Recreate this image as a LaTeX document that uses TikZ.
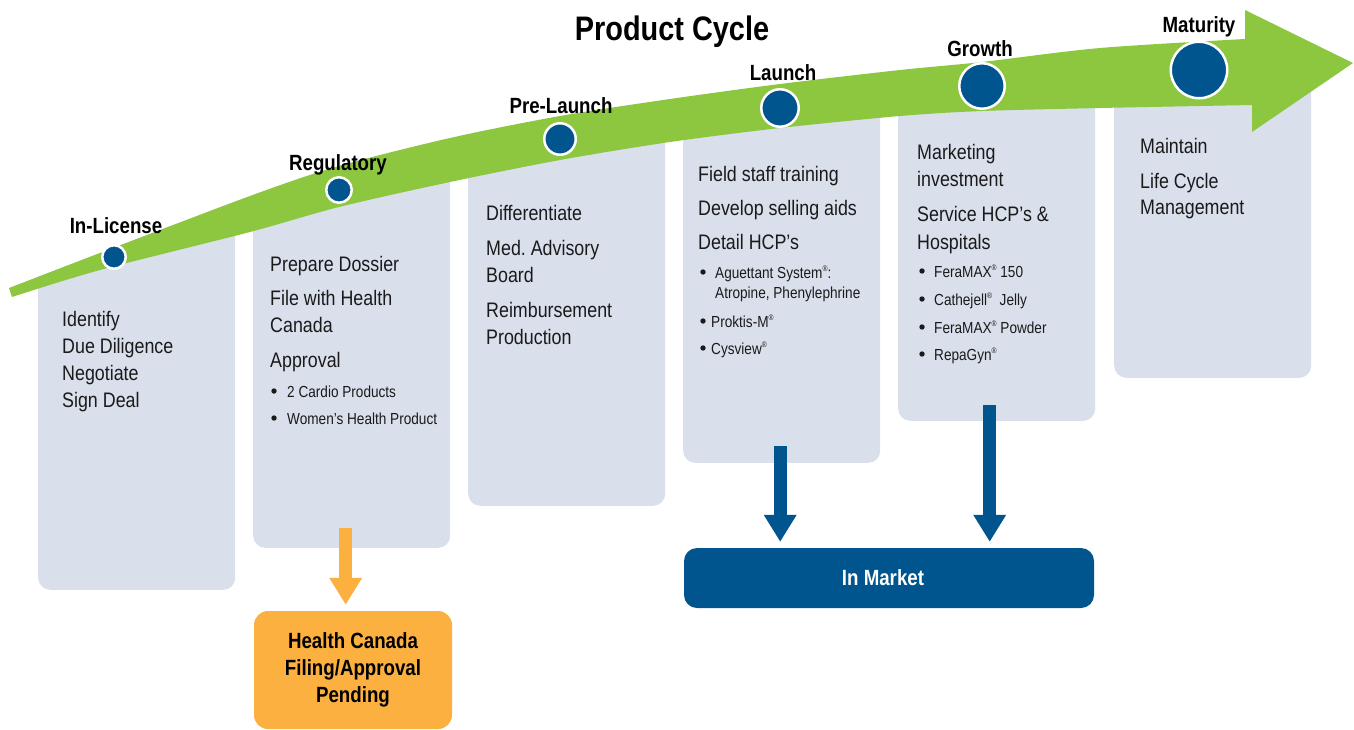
\documentclass[tikz,border=0pt]{standalone}
\usepackage{fontspec}
\setmainfont{Liberation Sans}[FakeStretch=0.85]
\usetikzlibrary{arrows.meta}

\definecolor{bandgreen}{HTML}{8DC63F}
\definecolor{panelgrey}{HTML}{D9E0EC}
\definecolor{dotblue}{HTML}{00558F}
\definecolor{pendorange}{HTML}{FBB040}
\definecolor{inktext}{HTML}{1A1A1A}

% small raised registered mark
\newcommand\regmark{\raisebox{0.42em}{\fontsize{8}{8}\selectfont ®}}

\tikzset{
  panel/.style={fill=panelgrey, rounded corners=12pt, inner sep=0pt, draw=none,
                minimum width=197pt, anchor=south west},
  stagedot/.style={circle, fill=dotblue, draw=white, line width=2.5pt, inner sep=0pt},
  stagelabel/.style={anchor=base, inner sep=0pt, font=\fontsize{22}{22}\selectfont\bfseries},
  itemtext/.style={anchor=base west, inner sep=0pt, text=inktext, font=\fontsize{21}{21}\selectfont},
  subtext/.style={anchor=base west, inner sep=0pt, text=inktext, font=\fontsize{16}{16}\selectfont},
  bulletdot/.style={fill=inktext},
  fatarrow/.style={line width=13pt, shorten >=6pt, -{Triangle[width=31pt,length=27pt]}},
}

\begin{document}
\begin{tikzpicture}[x=1pt,y=-1pt]
\useasboundingbox (0,0) rectangle (1354,729);

% stage panels, kept below the upper edge of the band
\begin{scope}
  \clip (0,296) -- plot[smooth] coordinates {(9,288) (100,253) (250,196) (339,166) (450,138) (560,116) (670,99) (780,84) (900,70) (982,62) (1100,48) (1245,39)}
        -- (1360,39) -- (1360,740) -- (0,740) -- cycle;
  \node[panel, minimum height=365pt] (p1) at (38,590) {};
  \node[panel, minimum height=378pt] (p2) at (253,548) {};
  \node[panel, minimum height=376pt] (p3) at (468,506) {};
  \node[panel, minimum height=358pt] (p4) at (683,463) {};
  \node[panel, minimum height=326pt] (p5) at (898,421) {};
  \node[panel, minimum height=308pt] (p6) at (1114,378) {};
\end{scope}

% the growth band with its arrow head
\fill[bandgreen] plot[smooth] coordinates {(9,288) (100,253) (250,196) (339,166) (450,138) (560,116) (670,99) (780,84) (900,70) (982,62) (1100,48) (1245,39)}
  -- (1245,10) -- (1353,63) -- (1252,132) -- (1252,105)
  -- plot[smooth] coordinates {(1252,105) (1100,108) (982,111) (900,116) (780,128) (670,142) (560,160) (450,182) (339,207) (250,232) (100,270) (12,297)}
  -- cycle;

% stage markers
\node[stagedot, minimum size=23.5pt] (c1) at (114,257) {};
\node[stagedot, minimum size=25.5pt] (c2) at (339,190) {};
\node[stagedot, minimum size=31.5pt] (c3) at (560,139) {};
\node[stagedot, minimum size=37.5pt] (c4) at (780,108) {};
\node[stagedot, minimum size=45.5pt] (c5) at (982,86) {};
\node[stagedot, minimum size=56.5pt] (c6) at (1199,70) {};

% stage names
\node[stagelabel] (s1) at (116,233) {In-License};
\node[stagelabel] (s2) at (338,170) {Regulatory};
\node[stagelabel] (s3) at (561,113) {Pre-Launch};
\node[stagelabel] (s4) at (783,80) {Launch};
\node[stagelabel] (s5) at (980,56) {Growth};
\node[stagelabel] (s6) at (1199,32) {Maturity};

% title
\node[anchor=base, inner sep=0pt, font=\fontsize{34}{34}\selectfont\bfseries] (title) at (672,40) {Product Cycle};

% In-License
\node[itemtext] (a1) at (62,326) {Identify};
\node[itemtext] (a2) at (62,353) {Due Diligence};
\node[itemtext] (a3) at (62,380) {Negotiate};
\node[itemtext] (a4) at (62,407) {Sign Deal};

% Regulatory
\node[itemtext] (b1) at (270,271) {Prepare Dossier};
\node[itemtext] (b2) at (270,305) {File with Health};
\node[itemtext] (b3) at (270,332) {Canada};
\node[itemtext] (b4) at (270,367) {Approval};
\fill[bulletdot] (274,391) circle (2.7);
\fill[bulletdot] (274,418) circle (2.7);
\node[subtext] (b5) at (287,397) {2 Cardio Products};
\node[subtext] (b6) at (287,424) {Women’s Health Product};

% Pre-Launch
\node[itemtext] (d1) at (486,220) {Differentiate};
\node[itemtext] (d2) at (486,255) {Med.\ Advisory};
\node[itemtext] (d3) at (486,282) {Board};
\node[itemtext] (d4) at (486,317) {Reimbursement};
\node[itemtext] (d5) at (486,344) {Production};

% Launch
\node[itemtext] (e1) at (698,181) {Field staff training};
\node[itemtext] (e2) at (698,215) {Develop selling aids};
\node[itemtext] (e3) at (698,249) {Detail HCP’s};
\fill[bulletdot] (703,272) circle (2.7);
\fill[bulletdot] (703,321) circle (2.7);
\fill[bulletdot] (703,348) circle (2.7);
\node[subtext] (e4) at (715,278) {Aguettant System\regmark:};
\node[subtext] (e5) at (715,298) {Atropine, Phenylephrine};
\node[subtext] (e6) at (711,327) {Proktis-M\regmark};
\node[subtext] (e7) at (711,354) {Cysview\regmark};

% Growth
\node[itemtext] (f1) at (917,159) {Marketing};
\node[itemtext] (f2) at (917,186) {investment};
\node[itemtext] (f3) at (917,221) {Service HCP’s \&};
\node[itemtext] (f4) at (917,249) {Hospitals};
\fill[bulletdot] (922,271) circle (2.7);
\fill[bulletdot] (922,299) circle (2.7);
\fill[bulletdot] (922,327) circle (2.7);
\fill[bulletdot] (922,354) circle (2.7);
\node[subtext] (f5) at (934,277) {FeraMAX\regmark{} 150};
\node[subtext] (f6) at (934,305) {Cathejell\regmark\ \ Jelly};
\node[subtext] (f7) at (934,333) {FeraMAX\regmark{} Powder};
\node[subtext] (f8) at (934,360) {RepaGyn\regmark};

% Maturity
\node[itemtext] (g1) at (1140,153) {Maintain};
\node[itemtext] (g2) at (1140,188) {Life Cycle};
\node[itemtext] (g3) at (1140,214) {Management};

% outcome boxes
\node[fill=pendorange, rounded corners=14pt, minimum width=198pt, minimum height=118pt,
      inner sep=0pt, align=center, font=\fontsize{22}{27}\selectfont\bfseries] (hc) at (353,670)
      {Health Canada\\Filing/Approval\\Pending};
\node[fill=dotblue, rounded corners=13pt, minimum width=410pt, minimum height=60pt,
      inner sep=0pt, text=white, font=\fontsize{22}{22}\selectfont\bfseries] (mk) at (889,578)
      {In Market\hspace*{12pt}};

% connectors
\coordinate (oa) at ([xshift=-6pt,yshift=20pt]p2.south);
\coordinate (ba) at ([xshift=-1.5pt,yshift=17pt]p4.south);
\coordinate (bb) at ([xshift=-7pt,yshift=16pt]p5.south);
\draw[fatarrow, pendorange] (oa) -- (oa |- hc.north);
\draw[fatarrow, dotblue] (ba) -- (ba |- mk.north);
\draw[fatarrow, dotblue] (bb) -- (bb |- mk.north);
\end{tikzpicture}
\end{document}
